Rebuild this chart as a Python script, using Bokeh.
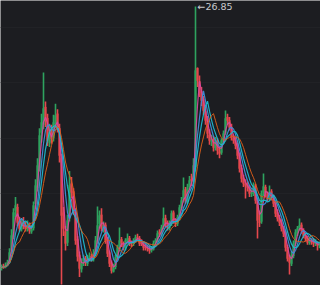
import pandas as pd
from bokeh.plotting import figure
from bokeh.models import ColumnDataSource, Range1d, FixedTicker
from bokeh.embed import file_html
from bokeh.resources import INLINE
from bokeh.core.properties import value

opens = [3.30,3.50,3.40,3.60,3.90,4.90,6.10,8.50,8.80,7.50,
         6.80,7.50,7.10,6.80,7.20,6.60,6.90,9.10,10.50,12.30,
         15.50,16.20,17.80,16.80,14.60,15.80,15.00,16.20,17.20,15.90,
         13.20,8.30,6.60,5.60,7.80,10.90,10.20,8.40,5.90,4.50,
         3.20,3.90,4.20,3.70,4.10,4.40,4.10,4.70,5.70,7.30,
         8.10,6.80,7.20,5.90,4.70,3.80,3.00,3.40,4.20,5.00,
         5.90,5.50,5.10,5.70,6.00,5.60,5.50,5.80,6.10,6.00,
         5.60,5.50,5.20,5.10,5.10,4.90,5.00,5.60,5.70,6.50,
         6.40,7.00,7.80,7.40,6.90,7.30,8.30,7.60,7.30,7.80,
         8.70,9.50,10.40,9.30,10.60,11.30,11.10,12.40,21.30,20.10,
         19.20,18.50,17.40,16.70,15.30,14.70,14.90,14.10,14.80,13.80,
         13.70,14.70,15.50,16.90,16.60,16.00,15.00,14.80,14.40,13.50,
         12.30,11.40,10.90,10.80,10.50,10.00,10.00,10.70,9.30,7.50,
         7.50,10.10,10.60,10.00,9.60,10.20,9.70,9.10,8.30,7.80,
         7.40,6.90,6.50,5.20,4.20,3.70,4.40,5.50,6.50,6.90,
         7.20,6.70,6.30,6.00,5.60,5.80,5.80,5.50,5.50,5.30]
highs = [3.62,3.70,3.80,4.05,5.10,6.80,8.70,9.70,9.10,7.90,
         7.80,7.90,7.50,7.60,7.40,7.20,9.30,11.30,13.20,15.90,
         17.20,20.90,18.30,17.20,16.30,16.20,17.10,18.10,17.60,16.30,
         13.60,8.80,7.10,8.10,12.05,11.50,10.50,8.70,6.20,4.80,
         4.20,4.50,4.40,4.50,4.70,4.60,5.00,6.20,8.85,8.50,
         8.70,7.50,7.40,6.10,4.90,4.00,3.70,4.50,5.40,6.96,
         6.10,5.70,6.00,6.42,6.20,5.80,6.00,6.30,6.40,6.20,
         5.90,5.70,5.50,5.40,5.30,5.30,5.80,6.00,6.70,6.80,
         7.20,8.76,8.10,7.60,7.60,8.49,8.50,7.80,8.10,9.00,
         9.70,11.45,10.60,10.90,11.60,11.80,13.20,26.85,21.36,20.64,
         19.60,18.80,17.80,17.00,15.80,15.30,15.20,15.10,15.00,14.20,
         15.00,15.70,17.49,17.20,16.90,16.30,15.30,15.10,14.60,13.70,
         12.60,11.70,11.30,11.10,10.80,10.40,11.00,10.90,9.50,8.50,
         10.30,11.82,10.80,10.20,10.74,10.40,9.90,9.30,8.60,8.10,
         7.70,7.10,6.70,5.40,4.50,4.80,5.80,6.80,7.10,7.77,
         7.40,6.90,6.50,6.20,6.10,6.00,6.00,5.90,5.70,5.70]
lows = [3.10,3.25,3.30,3.48,3.75,4.60,5.90,7.90,7.10,6.60,
        6.60,6.80,6.60,6.60,6.40,6.40,6.70,8.60,10.20,12.00,
        14.60,15.80,16.00,14.30,14.20,14.50,14.70,15.90,15.50,12.80,
        1.83,6.20,4.90,5.30,7.50,9.60,8.10,5.40,3.90,2.50,
        2.90,3.50,3.50,3.50,3.90,3.90,3.90,4.40,5.50,6.90,
        6.60,6.50,5.50,4.30,3.40,2.82,2.90,3.20,4.00,4.80,
        5.20,4.90,4.90,5.50,5.30,5.20,5.30,5.60,5.80,5.30,
        5.30,4.90,4.90,4.80,4.60,4.70,4.90,5.30,5.60,6.10,
        6.20,6.80,7.00,6.70,6.70,7.10,7.30,7.00,7.10,7.60,
        8.50,9.20,9.10,9.10,10.30,10.70,10.90,12.00,19.60,18.70,
        17.90,17.10,16.20,15.00,14.40,14.30,13.80,13.90,13.50,13.20,
        13.50,14.50,15.30,16.20,15.70,14.80,14.50,14.00,13.10,11.90,
        11.00,10.60,9.57,10.20,9.70,9.70,9.80,9.10,5.97,7.00,
        7.30,9.80,9.70,9.30,9.40,9.40,8.80,7.90,7.50,7.10,
        6.60,6.10,4.80,3.90,2.73,3.50,4.20,5.30,6.20,6.70,
        6.40,6.00,5.70,5.40,5.40,5.40,5.20,5.30,4.90,5.10]
closes = [3.36,3.45,3.54,3.81,4.71,6.24,8.31,8.94,7.41,6.87,
          7.41,7.05,6.87,7.14,6.69,6.87,8.94,10.74,12.54,15.24,
          16.41,17.67,16.59,14.79,15.51,14.97,16.41,17.04,15.96,13.44,
          8.04,6.87,5.52,7.59,10.74,10.11,8.49,5.79,4.35,3.27,
          3.81,4.17,3.81,4.17,4.35,4.17,4.62,5.79,7.14,8.04,
          6.87,7.14,5.79,4.62,3.72,3.09,3.36,4.26,5.16,5.79,
          5.52,5.16,5.79,5.97,5.52,5.52,5.79,6.06,6.06,5.52,
          5.52,5.16,5.16,5.07,4.89,5.07,5.52,5.79,6.42,6.42,
          6.96,7.77,7.32,6.96,7.32,8.22,7.59,7.32,7.86,8.76,
          9.39,10.29,9.39,10.56,11.19,11.19,12.54,21.09,20.19,19.11,
          18.39,17.49,16.59,15.42,14.79,14.79,14.16,14.79,13.89,13.62,
          14.79,15.42,16.77,16.59,15.96,15.06,14.79,14.34,13.44,12.27,
          11.37,10.92,10.74,10.56,10.02,10.02,10.74,9.39,7.59,7.41,
          10.02,10.65,10.02,9.66,10.11,9.66,9.12,8.22,7.77,7.41,
          6.87,6.42,5.16,4.17,3.81,4.44,5.52,6.51,6.87,7.14,
          6.69,6.24,5.97,5.61,5.79,5.79,5.52,5.52,5.34,5.52]

ma_windows = [3, 5, 7, 10]
ma_colors = ["#d6479c", "#3d8fd8", "#1fb8cc", "#dc5e1a"]
ma_widths = [1.2, 1.2, 1.2, 1.0]

df = pd.DataFrame(dict(open=opens, high=highs, low=lows, close=closes))
df["idx"] = range(len(df))
df["up"] = df.close >= df.open
df["top"] = df[["open", "close"]].max(axis=1)
df["bot"] = df[["open", "close"]].min(axis=1)
df["color"] = ["#2ea35f" if u else "#e5484d" for u in df.up]

BG = "#1c1d21"
p = figure(width=320, height=285, output_backend="svg", toolbar_location=None,
           x_range=Range1d(-0.5, len(df) - 0.5), y_range=Range1d(1.74, 27.39),
           min_border=0, background_fill_color=BG, border_fill_color=BG,
           outline_line_color=None)
p.xaxis.visible = False
p.yaxis.visible = False
p.xgrid.visible = False
p.yaxis.ticker = FixedTicker(ticks=[5, 10, 15, 20, 25])
p.ygrid.grid_line_color = "#212226"
p.ygrid.grid_line_width = 1

src = ColumnDataSource(df)
p.segment(x0="idx", y0="low", x1="idx", y1="high", color="color", line_width=1.6, source=src)
p.vbar(x="idx", width=0.8, top="top", bottom="bot", fill_color="color",
       line_color="color", line_width=0.5, source=src)

closes_s = pd.Series(closes)
for w, c, lw in zip(ma_windows, ma_colors, ma_widths):
    ma = closes_s.rolling(w, min_periods=1).mean()
    p.line(list(range(len(ma))), ma.tolist(), line_color=c, line_width=lw, line_alpha=0.95)

imax = int(pd.Series(highs).idxmax())
hmax = highs[imax]
p.text(x=[imax], y=[hmax], text=[f"\u2190{hmax:.2f}"], text_font=value("DejaVu Sans"),
       text_font_size="9.5px", text_color="#c9cace", text_baseline="middle",
       text_align="left", x_offset=2)

open("out.html", "w").write(file_html(p, INLINE))
